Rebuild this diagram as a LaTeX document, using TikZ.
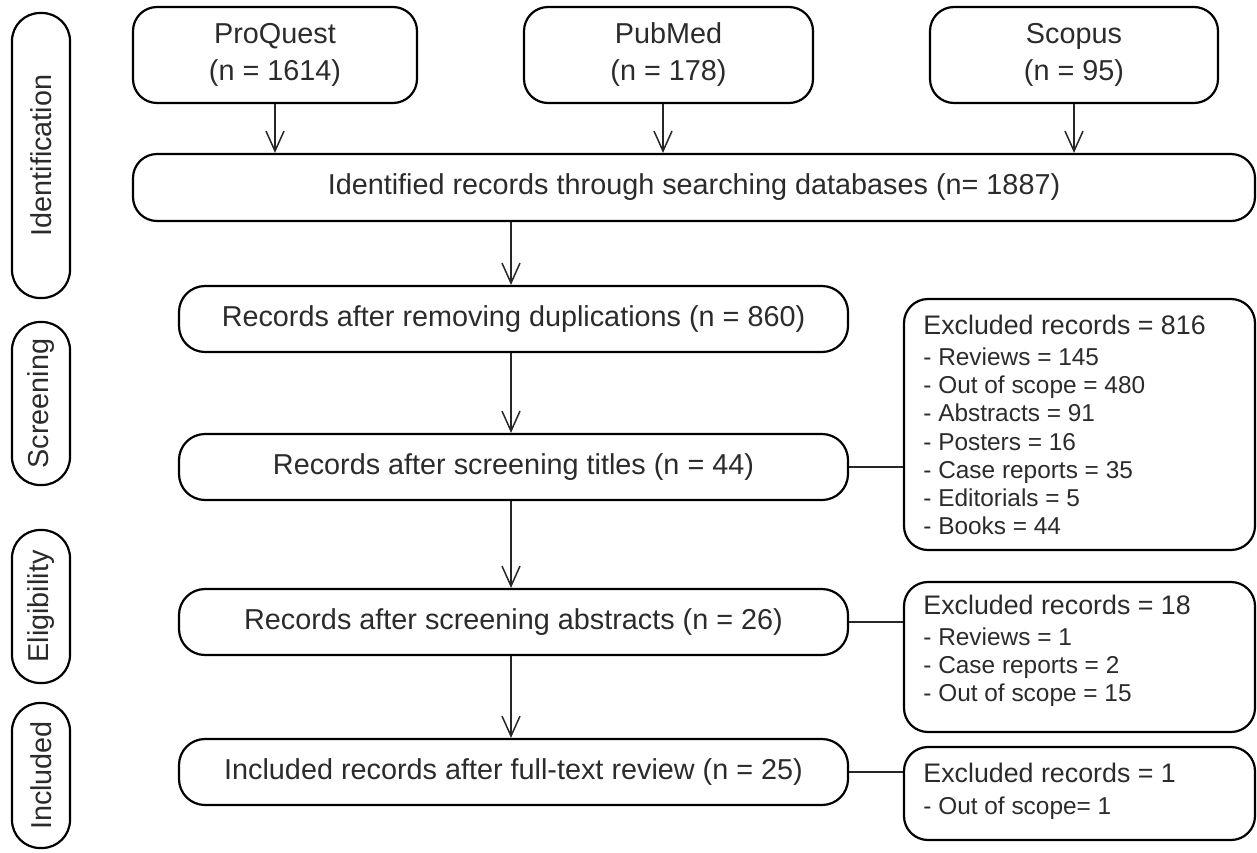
\documentclass[tikz,border=0pt]{standalone}
\usepackage{fontspec}
\setmainfont{Liberation Sans}
\usetikzlibrary{arrows.meta}
\definecolor{txt}{HTML}{2B2B2B}
\begin{document}
\begin{tikzpicture}[x=0.5pt,y=-0.5pt,
  mainfont/.style={font=\fontsize{14.4pt}{18.5pt}\selectfont},
  dbbox/.style={draw=black, line width=1.1pt, rounded corners=12pt, inner sep=0pt,
    align=center, text=txt, mainfont, minimum height=48pt},
  flowbox/.style={draw=black, line width=1.1pt, rounded corners=13pt, inner sep=0pt,
    text=txt, mainfont, minimum height=33pt, minimum width=334.5pt},
  exbox/.style={draw=black, line width=1.1pt, rounded corners=12pt, inner sep=0pt,
    minimum width=175.5pt},
  extext/.style={anchor=north west, inner sep=0pt, align=left, text=txt,
    font=\fontsize{12.2pt}{14.15pt}\selectfont},
  exhead/.style={},
  sidebox/.style={draw=black, line width=1.1pt, rounded corners=14pt, inner sep=0pt,
    text=txt, mainfont, minimum height=29pt, rotate=90},
  arr/.style={draw=black!85, line width=0.75pt, -{Straight Barb[length=10pt,width=9pt,line width=0.75pt]}},
  conn/.style={draw=black!85, line width=0.9pt}
]
\useasboundingbox (0,0) rectangle (1257,852);
\newcommand{\hd}[1]{{\fontsize{13.4pt}{15pt}\selectfont #1}}

% side labels
\node[sidebox, minimum width=142.5pt] (sid) at (41,155.5) {Identification};
\node[sidebox, minimum width=81.5pt] (ssc) at (41,403.5) {Screening};
\node[sidebox, minimum width=76.5pt] (sel) at (41,606.5) {Eligibility};
\node[sidebox, minimum width=72.5pt] (sin) at (41,775.5) {Included};

% databases
\node[dbbox, minimum width=142pt] (pq) at (275,55) {ProQuest\\(n = 1614)};
\node[dbbox, minimum width=144.5pt] (pm) at (668.5,55) {PubMed\\(n = 178)};
\node[dbbox, minimum width=144pt] (sc) at (1074,55) {Scopus\\(n = 95)};

\node[flowbox, minimum width=561pt, rounded corners=12pt, minimum height=33.5pt] (id) at (694,187.5)
  {Identified records through searching databases (n= 1887)};

\node[flowbox] (r1) at (513.5,319) {Records after removing duplications (n = 860)};
\node[flowbox] (r2) at (513.5,467) {Records after screening titles (n = 44)};
\node[flowbox] (r3) at (513.5,622) {Records after screening abstracts (n = 26)};
\node[flowbox] (r4) at (513.5,772) {Included records after full-text review (n = 25)};

% excluded boxes
\node[exbox, minimum height=125.5pt] (e1) at (1079.5,424.5) {};
\node[exbox, minimum height=75pt] (e2) at (1079.5,657) {};
\node[exbox, minimum height=46.5pt] (e3) at (1079.5,793.5) {};

\node[extext] (e1t) at (923,315) {\hd{Excluded records = 816}\\[1pt]
- Reviews = 145\\- Out of scope = 480\\- Abstracts = 91\\- Posters = 16\\
- Case reports = 35\\- Editorials = 5\\- Books = 44};
\node[extext] (e2t) at (923,595) {\hd{Excluded records = 18}\\[1pt]
- Reviews = 1\\- Case reports = 2\\- Out of scope = 15};
\node[extext] (e3t) at (923,762.5) {\hd{Excluded records = 1}\\[2pt]
- Out of scope= 1};

% arrows
\coordinate (apm) at (663,0);
\coordinate (amid) at (511,0);
\draw[arr] (pq.south) -- (pq.south |- id.north);
\draw[arr] (apm |- pm.south) -- (apm |- id.north);
\draw[arr] (sc.south) -- (sc.south |- id.north);
\draw[arr] (amid |- id.south) -- (amid |- r1.north);
\draw[arr] (amid |- r1.south) -- (amid |- r2.north);
\draw[arr] (amid |- r2.south) -- (amid |- r3.north);
\draw[arr] (amid |- r3.south) -- (amid |- r4.north);

% connectors
\draw[conn] (r2.east) -- (r2.east -| e1.west);
\draw[conn] (r3.east) -- (r3.east -| e2.west);
\draw[conn] (r4.east) -- (r4.east -| e3.west);
\end{tikzpicture}
\end{document}
